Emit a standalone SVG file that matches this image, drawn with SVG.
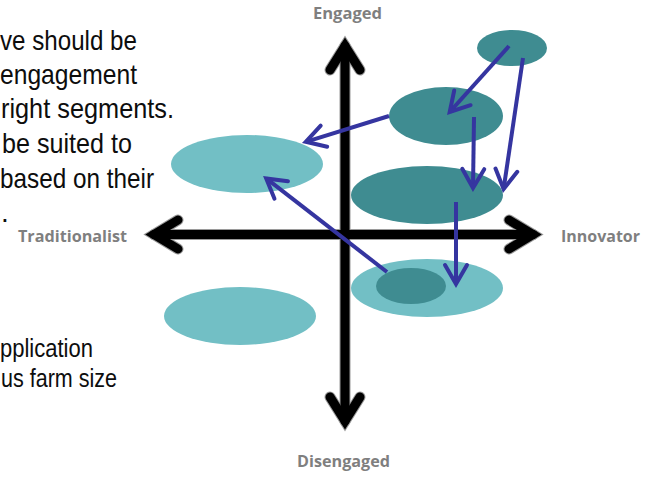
<svg xmlns="http://www.w3.org/2000/svg" width="653" height="478" viewBox="0 0 653 478">
<style>
.body{font-family:"Liberation Sans",Arial,sans-serif;font-size:28px;fill:#0d0d0d}
.small{font-size:26px}
.lab{font-family:"Open Sans","Liberation Sans",sans-serif;font-size:16px;font-weight:bold;fill:#7f7f7f}
.dark{fill:#3f8c91}
.light{fill:#72bfc5}
.axo{stroke:#9a9a9a;stroke-width:11;fill:none;stroke-linecap:round;stroke-linejoin:miter}
.axi{stroke:#000;stroke-width:9;fill:none;stroke-linecap:round;stroke-linejoin:miter}
.con{stroke:#3535a0;stroke-width:4;fill:none;marker-end:url(#v)}
</style>
<defs>
<marker id="v" markerUnits="userSpaceOnUse" markerWidth="30" markerHeight="30" refX="22" refY="12" orient="auto" viewBox="0 0 30 24">
<path d="M3,1 L22,12 L3,23" fill="none" stroke="#3535a0" stroke-width="4" stroke-linecap="round" stroke-linejoin="miter"/>
</marker>
</defs>
<rect width="653" height="478" fill="#fff"/>
<g id="text">
<text class="body" x="0" y="50" textLength="137" lengthAdjust="spacingAndGlyphs">ve should be</text>
<text class="body" x="0" y="84" textLength="137" lengthAdjust="spacingAndGlyphs">engagement</text>
<text class="body" x="1" y="118" textLength="173" lengthAdjust="spacingAndGlyphs">right segments.</text>
<text class="body" x="2" y="153" textLength="130" lengthAdjust="spacingAndGlyphs">be suited to</text>
<text class="body" x="0" y="188" textLength="154" lengthAdjust="spacingAndGlyphs">based on their</text>
<text class="body" x="1" y="222">.</text>
<text class="body small" x="0" y="357" textLength="93" lengthAdjust="spacingAndGlyphs">pplication</text>
<text class="body small" x="1" y="387" textLength="116" lengthAdjust="spacingAndGlyphs">us farm size</text>
</g>
<g id="axes">
<path class="axo" d="M345,46 V421"/>
<path class="axo" d="M154,234.5 H533"/>
<path class="axo" d="M330,70 L345,46 L360,70"/>
<path class="axo" d="M330,397 L345,421 L360,397"/>
<path class="axo" d="M178,220 L154,234.5 L178,249"/>
<path class="axo" d="M509,220 L533,234.5 L509,249"/>
<path class="axi" d="M345,46 V421"/>
<path class="axi" d="M154,234.5 H533"/>
<path class="axi" d="M330,70 L345,46 L360,70"/>
<path class="axi" d="M330,397 L345,421 L360,397"/>
<path class="axi" d="M178,220 L154,234.5 L178,249"/>
<path class="axi" d="M509,220 L533,234.5 L509,249"/>
</g>
<g id="labels">
<text id="engaged" class="lab" x="313" y="19" textLength="69" lengthAdjust="spacingAndGlyphs">Engaged</text>
<text id="innovator" class="lab" x="561" y="242" textLength="79" lengthAdjust="spacingAndGlyphs">Innovator</text>
<text id="traditionalist" class="lab" x="18" y="242" textLength="109" lengthAdjust="spacingAndGlyphs">Traditionalist</text>
<text id="disengaged" class="lab" x="297" y="467" textLength="93" lengthAdjust="spacingAndGlyphs">Disengaged</text>
</g>
<g id="n1"><ellipse class="dark" cx="512" cy="48" rx="35" ry="18"/></g>
<g id="n2"><ellipse class="dark" cx="446" cy="116" rx="57" ry="29"/></g>
<g id="n3"><ellipse class="dark" cx="427" cy="195" rx="76" ry="29"/></g>
<g id="n4"><ellipse class="light" cx="427" cy="288" rx="76" ry="29"/></g>
<g id="n5"><ellipse class="dark" cx="411" cy="286" rx="35" ry="18"/></g>
<g id="n6"><ellipse class="light" cx="247" cy="164" rx="76" ry="29"/></g>
<g id="n7"><ellipse class="light" cx="240" cy="316" rx="76" ry="29"/></g>
<g id="connectors">
<path class="con" d="M509,46 L449.7,112"/>
<path class="con" d="M523,58 L503.6,189"/>
<path class="con" d="M474,117 L473,188"/>
<path class="con" d="M389,116 L305.8,141.8"/>
<path class="con" d="M456,202 L456,284"/>
<path class="con" d="M387,272 L266.2,178.4"/>
</g>
</svg>
